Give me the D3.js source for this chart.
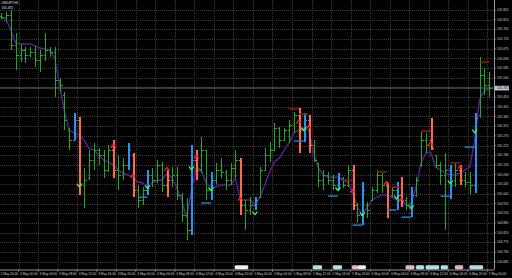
<!DOCTYPE html>
<html><head><meta charset="utf-8">
<script src="https://cdn.jsdelivr.net/npm/d3@7/dist/d3.min.js"></script>
<style>html,body{margin:0;padding:0;background:#000;overflow:hidden}svg{display:block}</style>
</head><body><svg id="c" width="512" height="278"></svg>
<script>
// ---------- data ----------
const symbolLine = "USDJPY,H1";
const infoLine = "105.492";
const priceTicks = [105.855,105.810,105.765,105.720,105.675,105.630,105.585,105.540,105.495,105.450,105.405,105.360,105.315,105.270,105.225,105.180,105.135,105.090,105.045,105.000,104.955,104.910,104.865,104.820,104.775,104.730,104.685];
const timeLabels = ["2 May 20:00","3 May 00:00","3 May 04:00","3 May 08:00","3 May 12:00","3 May 16:00","3 May 20:00","4 May 00:00","4 May 04:00","4 May 08:00","4 May 12:00","4 May 16:00","4 May 20:00","5 May 00:00","5 May 04:00","5 May 08:00","5 May 12:00","5 May 16:00","5 May 20:00","6 May 00:00","6 May 04:00","6 May 08:00","6 May 12:00","6 May 16:00","6 May 20:00","7 May 00:00"];
const high  = [105.841,105.846,105.855,105.748,105.697,105.683,105.683,105.688,105.669,105.748,105.683,105.683,105.539,105.474,105.306,105.376,105.357,105.120,105.204,105.237,105.213,105.204,105.227,105.250,105.181,105.167,105.237,105.190,105.041,105.032,105.111,105.120,105.157,105.148,105.111,105.125,105.125,105.004,104.981,105.227,105.204,105.264,105.204,105.102,105.144,105.167,105.111,105.144,105.204,105.167,104.972,104.985,104.985,105.125,105.213,105.241,105.330,105.311,105.306,105.343,105.381,105.399,105.376,105.367,105.250,105.144,105.111,105.102,105.088,105.097,105.078,105.134,105.134,104.958,105.055,104.962,105.032,105.111,105.097,105.051,105.032,105.055,105.078,104.985,105.032,105.078,105.288,105.283,105.353,105.181,105.148,105.190,105.134,105.144,105.134,105.102,105.102,105.376,105.636,105.585,105.567];
const low   = [105.813,105.799,105.669,105.576,105.613,105.609,105.636,105.590,105.567,105.618,105.636,105.451,105.474,105.297,105.204,105.250,104.995,104.934,105.064,105.111,105.134,105.074,105.102,105.074,105.018,105.064,105.111,104.985,104.934,104.948,104.995,105.032,105.051,105.009,104.985,105.032,104.972,104.869,104.785,104.809,105.064,105.097,104.972,104.972,105.041,105.074,105.018,105.041,105.074,104.902,104.832,104.902,104.925,104.985,105.111,105.148,105.204,105.213,105.250,105.237,105.283,105.190,105.241,105.190,105.148,105.032,105.018,105.041,105.018,105.018,105.027,105.032,104.925,104.865,104.855,104.888,104.972,105.004,105.004,104.888,104.985,104.925,104.939,104.925,104.892,104.985,105.125,105.190,105.204,105.120,105.041,104.832,104.976,105.032,105.041,105.032,104.995,105.004,105.353,105.460,105.451];
const open  = [105.827,105.822,105.832,105.692,105.646,105.669,105.646,105.660,105.622,105.646,105.669,105.660,105.530,105.460,105.297,105.250,105.343,105.041,105.074,105.157,105.204,105.181,105.111,105.204,105.111,105.088,105.134,105.181,105.018,104.972,105.018,105.088,105.064,105.134,105.041,105.064,105.088,104.995,104.902,104.832,105.157,105.111,105.204,105.018,105.064,105.111,105.102,105.064,105.120,105.157,104.948,104.925,104.948,104.985,105.111,105.181,105.204,105.306,105.250,105.297,105.320,105.367,105.297,105.343,105.227,105.144,105.064,105.088,105.064,105.041,105.074,105.041,105.111,104.948,104.902,104.948,104.972,105.018,105.088,105.041,104.995,105.018,104.995,104.972,104.948,104.995,105.134,105.250,105.250,105.181,105.134,105.088,105.111,105.064,105.111,105.064,105.055,105.041,105.367,105.553,105.506];
const close = [105.822,105.832,105.692,105.646,105.669,105.646,105.660,105.622,105.646,105.669,105.660,105.530,105.506,105.343,105.250,105.343,105.041,105.064,105.157,105.204,105.181,105.111,105.204,105.111,105.088,105.134,105.204,105.018,104.972,105.018,105.088,105.064,105.134,105.041,105.064,105.088,104.995,104.902,104.832,105.157,105.111,105.204,105.018,105.064,105.111,105.102,105.064,105.120,105.157,104.948,104.925,104.948,104.972,105.111,105.181,105.204,105.306,105.250,105.297,105.320,105.367,105.297,105.343,105.227,105.157,105.064,105.088,105.064,105.041,105.074,105.041,105.111,104.948,104.902,105.018,104.925,105.018,105.088,105.041,104.925,105.018,104.995,104.972,104.948,104.995,105.064,105.250,105.227,105.213,105.134,105.088,105.111,105.041,105.111,105.064,105.055,105.041,105.353,105.553,105.506,105.492];
const maLine = [105.818,105.813,105.762,105.701,105.697,105.697,105.697,105.688,105.678,105.674,105.669,105.632,105.506,105.381,105.297,105.283,105.274,105.250,105.213,105.204,105.181,105.157,105.148,105.134,105.111,105.097,105.088,105.078,105.055,105.051,105.032,105.051,105.064,105.064,105.097,105.074,105.027,104.972,104.888,105.018,105.125,105.111,105.051,105.032,105.032,105.041,105.041,105.041,105.074,104.972,104.972,104.972,104.948,104.985,105.041,105.102,105.148,105.167,105.204,105.237,105.283,105.297,105.306,105.297,105.195,105.120,105.088,105.078,105.078,105.078,105.064,105.055,105.009,104.939,104.902,104.939,104.972,104.985,104.995,104.995,104.985,104.972,104.972,104.948,104.958,105.032,105.144,105.190,105.195,105.125,105.111,105.097,105.088,105.088,105.097,105.111,105.125,105.250,105.437,105.483,105.483];
const sellBars = [16,23,27,34,40,49,61,63,72,79,82,88,94];
const buyBars  = [15,26,30,39,43,52,62,69,74,81,84,92,97];
const sellArrows = [[23,105.223],[27,105.083],[34,105.116],[40,105.171],[49,104.976],[61,105.334],[63,105.311],[72,105.013],[79,105.051],[82,104.972],[88,105.232],[94,105.125]];
const buyArrows  = [[16,105.041],[30,105.032],[39,105.120],[43,105.023],[52,104.911],[62,105.302],[69,105.023],[74,104.906],[81,104.985],[84,104.939],[92,105.055],[97,105.292]];
const buyStops  = [[28,30,104.985],[41,43,104.958],[60,62,105.246],[67,69,104.990],[72,74,104.855],[79,81,104.925],[82,84,104.892],[90,92,104.990],[95,97,105.218]];
const sellStops = [[59,61,105.395],[61,63,105.371],[70,72,105.064],[77,79,105.102],[80,82,105.032],[86,88,105.292],[92,94,105.144],[98,100,105.613]];
const tags = [[47.9,50.6,"w"],[63.9,65.7,"c"],[68.0,69.8,"c"],[71.9,73.1,"p"],[73.1,74.7,"w"],[82.9,84.6,"p"],[85.0,86.6,"c"],[87.0,89.7,"c"],[90.1,91.5,"c"],[93.0,94.6,"p"],[96.0,98.7,"c"]];

// ---------- drawing ----------
const W = 512, H = 278, plotR = 494, plotB = 269.5;
const svg = d3.select("#c");
svg.append("rect").attr("width",W).attr("height",H).attr("fill","#000");
const n = close.length;
const x = d3.scaleLinear().domain([0, n-1]).range([1, 489.3]);
const y = d3.scaleLinear().domain([104.685, 105.855]).range([261.7, 10]);

const g = svg.append("g");
// grid
const grid = g.append("g").attr("stroke","#3a3a3a").attr("stroke-dasharray","1,1").attr("shape-rendering","crispEdges");
grid.selectAll(".h").data(priceTicks).join("line")
  .attr("x1",0).attr("x2",plotR).attr("y1",d=>Math.round(y(d))+0.5).attr("y2",d=>Math.round(y(d))+0.5);
const timeIdx = timeLabels.map((t,i)=>i*4);
grid.selectAll(".v").data(timeIdx).join("line")
  .attr("y1",0).attr("y2",plotB).attr("x1",d=>Math.round(x(d)-2)+0.5).attr("x2",d=>Math.round(x(d)-2)+0.5);

// bid line
const last = close[n-1];
g.append("line").attr("x1",0).attr("x2",plotR).attr("y1",y(last)).attr("y2",y(last))
  .attr("stroke","#7a7a7a").attr("stroke-width",0.8);

// moving average
g.append("path").datum(maLine)
  .attr("d", d3.line().x((d,i)=>x(i)).y(d=>y(d)))
  .attr("fill","none").attr("stroke","#55208c").attr("stroke-width",1.5);

// bars
const kind = i => sellBars.includes(i) ? "s" : buyBars.includes(i) ? "b" : "n";
const col = {n:"#1faa1f", s:"#ff6a48", b:"#2a92f0"};
const bars = g.append("g").attr("shape-rendering","crispEdges");
const idx = d3.range(n);
bars.selectAll(".hl").data(idx).join("line")
  .attr("x1",i=>Math.round(x(i))+0.5).attr("x2",i=>Math.round(x(i))+0.5)
  .attr("y1",i=>y(high[i])).attr("y2",i=>y(low[i]))
  .attr("stroke",i=>col[kind(i)]).attr("stroke-width",i=>kind(i)==="n"?1:2);
bars.selectAll(".op").data(idx).join("line")
  .attr("x1",i=>Math.round(x(i))-1.5).attr("x2",i=>Math.round(x(i))+0.5)
  .attr("y1",i=>Math.round(y(open[i]))+0.5).attr("y2",i=>Math.round(y(open[i]))+0.5)
  .attr("stroke",i=>col[kind(i)]);
bars.selectAll(".cl").data(idx).join("line")
  .attr("x1",i=>Math.round(x(i))+0.5).attr("x2",i=>Math.round(x(i))+2.5)
  .attr("y1",i=>Math.round(y(close[i]))+0.5).attr("y2",i=>Math.round(y(close[i]))+0.5)
  .attr("stroke",i=>col[kind(i)]);

// stop levels
g.selectAll(".bs").data(buyStops).join("line")
  .attr("x1",d=>x(d[0])).attr("x2",d=>x(d[1])).attr("y1",d=>y(d[2])).attr("y2",d=>y(d[2]))
  .attr("stroke","#2a78c0").attr("stroke-width",1.5);
g.selectAll(".ss").data(sellStops).join("line")
  .attr("x1",d=>x(d[0])).attr("x2",d=>x(d[1])).attr("y1",d=>y(d[2])).attr("y2",d=>y(d[2]))
  .attr("stroke","#a01414").attr("stroke-width",1.5);

// arrows
g.selectAll(".sa").data(sellArrows).join("path")
  .attr("d",d=>{const cx=x(d[0]), cy=y(d[1]); return `M${cx-2.5},${cy+1.5}L${cx},${cy-1.5}L${cx+2.5},${cy+1.5}`;})
  .attr("fill","none").attr("stroke","#ff1a2a").attr("stroke-width",1.3);
g.selectAll(".ba").data(buyArrows).join("path")
  .attr("d",d=>{const cx=x(d[0]), cy=y(d[1]); return `M${cx-2.5},${cy-1.5}L${cx},${cy+1.5}L${cx+2.5},${cy-1.5}`;})
  .attr("fill","none").attr("stroke","#3cff3c").attr("stroke-width",1.3);

// frame
g.append("line").attr("x1",plotR+0.5).attr("x2",plotR+0.5).attr("y1",0).attr("y2",plotB).attr("stroke","#9a9a9a").attr("stroke-width",1);
g.append("line").attr("x1",0).attr("x2",plotR).attr("y1",plotB+0.5).attr("y2",plotB+0.5).attr("stroke","#9a9a9a").attr("stroke-width",1);

// price axis
const ax = svg.append("g").attr("font-family","Liberation Sans, Arial, sans-serif").attr("font-size",3.2).attr("fill","#d0d0d0");
ax.selectAll(".pt").data(priceTicks).join("line")
  .attr("x1",plotR).attr("x2",plotR+2).attr("y1",d=>y(d)).attr("y2",d=>y(d)).attr("stroke","#9a9a9a").attr("stroke-width",0.6);
ax.selectAll(".pl").data(priceTicks).join("text")
  .attr("x",497).attr("y",d=>y(d)+1.1).text(d=>d.toFixed(3));
// current price label
ax.append("rect").attr("x",495).attr("y",y(last)-2.3).attr("width",14).attr("height",4.6).attr("fill","#c4ccd6");
ax.append("text").attr("x",497).attr("y",y(last)+1.1).attr("fill","#000").text(last.toFixed(3));

// time axis
ax.selectAll(".tt").data(timeIdx).join("line")
  .attr("x1",d=>x(d)-2).attr("x2",d=>x(d)-2).attr("y1",plotB).attr("y2",plotB+2.5).attr("stroke","#9a9a9a").attr("stroke-width",0.6);
ax.selectAll(".tl").data(timeLabels).join("text")
  .attr("x",(d,i)=>x(timeIdx[i])-0.5).attr("y",275).text(d=>d);

// trade tags at bottom
const tagFill = {w:"#eef4f4", c:"#a6e2e8", p:"#f2aabb"};
const tg = svg.append("g");
tg.selectAll("rect").data(tags).join("rect")
  .attr("x",d=>x(d[0])).attr("y",265.5).attr("width",d=>x(d[1])-x(d[0])).attr("height",3.6).attr("rx",1)
  .attr("fill",d=>tagFill[d[1+1]]).attr("stroke","#ffffff").attr("stroke-width",0.4);

// top-left info
const info = svg.append("g").attr("font-family","Liberation Sans, Arial, sans-serif").attr("font-size",3.2).attr("fill","#e0e0e0");
info.append("text").attr("x",1.5).attr("y",4).text(symbolLine);
info.append("text").attr("x",1.5).attr("y",8.5).text(infoLine);
</script></body></html>
